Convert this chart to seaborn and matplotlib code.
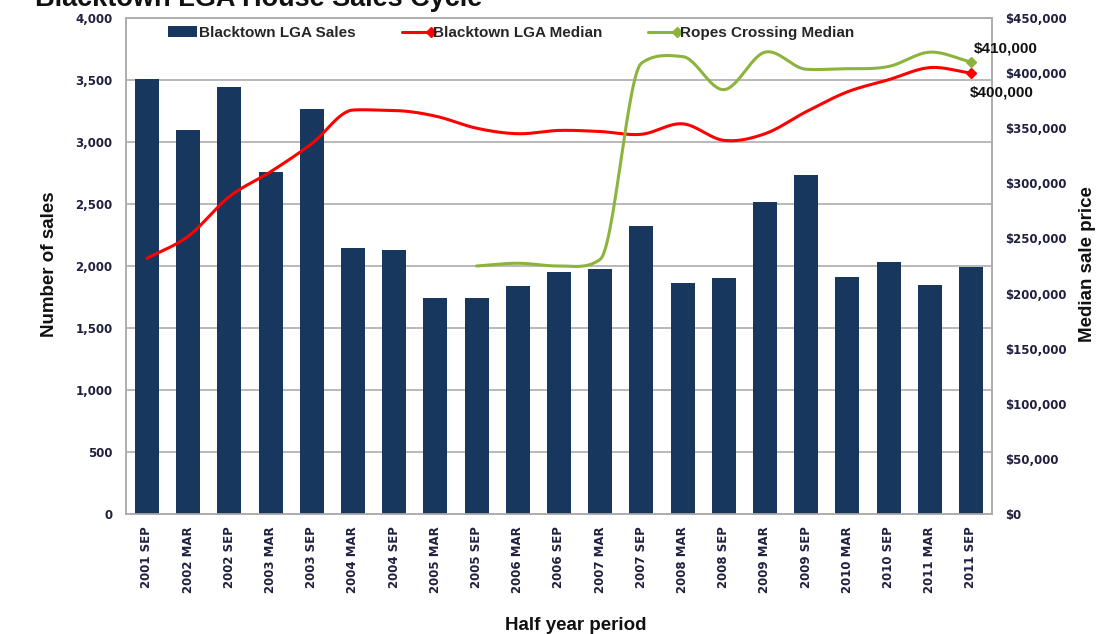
import numpy as np
import pandas as pd
import matplotlib
matplotlib.use("Agg")
import matplotlib.pyplot as plt
import seaborn as sns
from matplotlib.ticker import FuncFormatter, MultipleLocator
from matplotlib.patches import Patch
from matplotlib.lines import Line2D
from matplotlib.legend_handler import HandlerBase

# ---------------- data ----------------
periods = ["2001 SEP", "2002 MAR", "2002 SEP", "2003 MAR", "2003 SEP", "2004 MAR",
           "2004 SEP", "2005 MAR", "2005 SEP", "2006 MAR", "2006 SEP", "2007 MAR",
           "2007 SEP", "2008 MAR", "2008 SEP", "2009 MAR", "2009 SEP", "2010 MAR",
           "2010 SEP", "2011 MAR", "2011 SEP"]
sales = [3510, 3095, 3445, 2755, 3265, 2145, 2130, 1745, 1745, 1840, 1950,
         1975, 2320, 1865, 1905, 2515, 2730, 1910, 2035, 1845, 1995]
blacktown_median = [232000, 252000, 288000, 310500, 336000, 366500, 366000,
                    361000, 350000, 345000, 348000, 347000, 344500, 354000,
                    339000, 345000, 365000, 383000, 394000, 405000, 400000]
ropes_median = [np.nan] * 8 + [225000, 227500, 225000, 231000, 409000, 415000,
                               385000, 419000, 403500, 404000, 406000, 419000, 410000]

BAR = "#17375E"
RED = "#FF0000"
GREEN = "#8CB43C"
GRID = "#ADADAD"

sns.set_theme(style="white")
plt.rcParams['font.family'] = ['Liberation Sans', 'DejaVu Sans']

fig = plt.figure(figsize=(11.16, 6.34), dpi=100)
L, R, T, B = 126.4, 991.6, 18, 514
ax = fig.add_axes([L / 1116, 1 - B / 634, (R - L) / 1116, (B - T) / 634])

df = pd.DataFrame({"period": periods, "sales": sales})
sns.barplot(data=df, x="period", y="sales", color=BAR, saturation=1,
            width=0.58, linewidth=0, ax=ax, zorder=3)
ax.set_xlim(-0.5, len(periods) - 0.5)
ax.set_ylim(0, 4000)
ax.yaxis.set_major_locator(MultipleLocator(500))
ax.yaxis.set_major_formatter(FuncFormatter(lambda v, p: f"{int(v):,}"))
ax.grid(axis="y", color=GRID, lw=1.2, zorder=0)
ax.set_axisbelow(True)
for s in ax.spines.values():
    s.set_color(GRID)
    s.set_linewidth(1.2)
ax.tick_params(axis="y", length=0, pad=10, labelsize=8.5, labelcolor="#1F1F3F")
ax.tick_params(axis="x", length=0, pad=9, labelsize=8.5, labelcolor="#1F1F3F")
for lab in ax.get_yticklabels():
    lab.set_fontfamily("DejaVu Sans"); lab.set_fontweight("bold")
for lab in ax.get_xticklabels():
    lab.set_fontfamily("DejaVu Sans"); lab.set_fontweight("bold")
    lab.set_rotation(90); lab.set_va("top"); lab.set_ha("center")
ax.set_xlabel("")
ax.set_ylabel("")

ax2 = ax.twinx()
ax2.set_ylim(0, 450000)
ax2.yaxis.set_major_locator(MultipleLocator(50000))
ax2.yaxis.set_major_formatter(FuncFormatter(lambda v, p: f"${int(v):,}"))
ax2.tick_params(axis="y", length=0, pad=9.5, labelsize=8.5, labelcolor="#1F1F3F")
for lab in ax2.get_yticklabels():
    lab.set_fontfamily("DejaVu Sans"); lab.set_fontweight("bold")
for s in ax2.spines.values():
    s.set_color(GRID)
    s.set_linewidth(1.2)
ax2.grid(False)


def smooth(xs, ys, n=30, radius=4.5):
    """Cubic Hermite curve through the points with Catmull-Rom tangents;
    tangents that are far too steep for a short segment are scaled down."""
    x = np.asarray(xs, float)
    y = np.asarray(ys, float)
    k = len(x)
    d = np.diff(y) / np.diff(x)
    m = np.zeros(k)
    m[0], m[-1] = d[0], d[-1]
    for i in range(1, k - 1):
        m[i] = (y[i + 1] - y[i - 1]) / (x[i + 1] - x[i - 1])
    for i in range(k - 1):
        if d[i] == 0:
            continue
        a, b = m[i] / d[i], m[i + 1] / d[i]
        s = a * a + b * b
        if s > radius ** 2:
            tau = radius / np.sqrt(s)
            m[i] = tau * a * d[i]
            m[i + 1] = tau * b * d[i]
    X, Y = [], []
    for i in range(k - 1):
        h = x[i + 1] - x[i]
        t = np.linspace(0, 1, n, endpoint=False)
        h00 = 2 * t**3 - 3 * t**2 + 1
        h10 = t**3 - 2 * t**2 + t
        h01 = -2 * t**3 + 3 * t**2
        h11 = t**3 - t**2
        X.append(x[i] + t * h)
        Y.append(h00 * y[i] + h10 * h * m[i] + h01 * y[i + 1] + h11 * h * m[i + 1])
    X.append([x[-1]]); Y.append([y[-1]])
    return np.concatenate(X), np.concatenate(Y)


xpos = np.arange(len(periods))
for vals, col in [(blacktown_median, RED), (ropes_median, GREEN)]:
    v = np.array(vals, dtype=float)
    msk = ~np.isnan(v)
    sx, sy = smooth(xpos[msk], v[msk])
    sns.lineplot(x=sx, y=sy, sort=False, estimator=None, color=col, lw=2.2, ax=ax2)
    ax2.plot([xpos[msk][-1]], [v[msk][-1]], marker="D", ms=5.5, color=col, ls="none")

ax2.annotate(f"${int(ropes_median[-1]):,}", xy=(xpos[-1], ropes_median[-1]),
             xytext=(2, 10), textcoords="offset points", ha="left", va="center",
             fontsize=11, fontweight="bold", color="#111111")
ax2.annotate(f"${int(blacktown_median[-1]):,}", xy=(xpos[-1], blacktown_median[-1]),
             xytext=(-1, -14), textcoords="offset points", ha="left", va="center",
             fontsize=11, fontweight="bold", color="#111111")


class EndMarker(HandlerBase):
    def create_artists(self, legend, orig_handle, xdescent, ydescent, width,
                       height, fontsize, trans):
        y = height / 2 - ydescent
        ln = Line2D([-xdescent, width - xdescent], [y, y],
                    color=orig_handle.get_color(), lw=2.2)
        mk = Line2D([width - xdescent], [y], marker="D", ms=5,
                    color=orig_handle.get_color(), ls="none")
        ln.set_transform(trans)
        mk.set_transform(trans)
        return [ln, mk]


h_bar = Patch(facecolor=BAR, edgecolor="none")
h_red = Line2D([], [], color=RED)
h_green = Line2D([], [], color=GREEN)
fig.legend([h_bar, h_red, h_green],
           ["Blacktown LGA Sales", "Blacktown LGA Median", "Ropes Crossing Median"],
           handler_map={Line2D: EndMarker()},
           loc="center", bbox_to_anchor=(511 / 1116, 1 - 33 / 634), ncol=3,
           frameon=False, handlelength=1.9, handleheight=0.7, handletextpad=0.15,
           columnspacing=3.0, prop={"weight": "bold", "size": 11})

fig.text(35 / 1116, 1 - 6 / 634, "Blacktown LGA House Sales Cycle", fontsize=19.5,
         fontweight="bold", va="baseline", ha="left", color="#111111")
fig.text(50 / 1116, 1 - 264 / 634, "Number of sales", rotation=90, fontsize=13.5,
         fontweight="bold", ha="center", va="center", color="#111111")
fig.text(1087 / 1116, 1 - 264 / 634, "Median sale price", rotation=90, fontsize=13.5,
         fontweight="bold", ha="center", va="center", color="#111111")
fig.text(576 / 1116, 1 - 625 / 634, "Half year period", fontsize=13.5,
         fontweight="bold", ha="center", va="center", color="#111111")

fig.savefig("out.png", dpi=100)
